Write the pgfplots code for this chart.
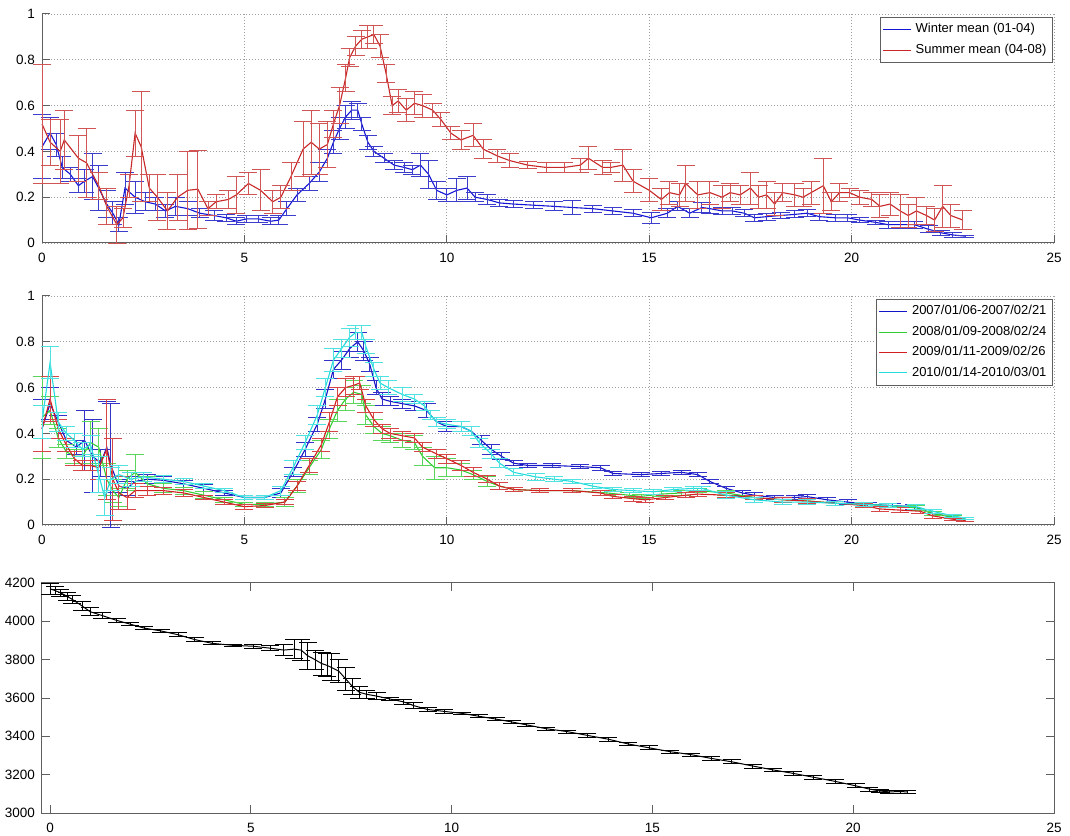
\documentclass[border=0pt]{standalone}
\usepackage{pgfplots}
\pgfplotsset{compat=1.18}
\usepackage{fontspec}
\setmainfont{Liberation Sans}

\definecolor{wblue}{RGB}{20,20,215}
\definecolor{wbluebar}{RGB}{60,60,205}
\definecolor{sred}{RGB}{200,40,40}
\definecolor{sredbar}{RGB}{210,85,85}
\definecolor{yblue}{RGB}{20,20,200}
\definecolor{ybluebar}{RGB}{50,50,200}
\definecolor{ygreen}{RGB}{50,205,50}
\definecolor{ygreenbar}{RGB}{90,215,90}
\definecolor{yred}{RGB}{210,30,30}
\definecolor{yredbar}{RGB}{215,70,70}
\definecolor{ycyan}{RGB}{35,220,220}
\definecolor{ycyanbar}{RGB}{80,225,225}
\definecolor{axgray}{RGB}{95,95,95}

\pgfplotsset{
  panel/.style={
    scale only axis, width=506pt,
    xmax=25, xtick={0,5,10,15,20,25},
    tick align=inside, major tick length=4pt,
    axis line style={axgray, line width=0.5pt},
    every tick/.style={axgray, line width=0.5pt},
    tick label style={font=\fontsize{6.75}{7}\selectfont, black},
    xticklabel style={yshift=-1.5pt},
    /pgf/number format/assume math mode=true,
    /pgf/number format/1000 sep={},
    scaled ticks=false, clip=false,
    legend cell align=left,
    legend style={font=\fontsize{6.5}{8}\selectfont, draw=axgray, line width=0.5pt,
      fill=white, at={(rel axis cs:0.999,0.987)}, anchor=north east,
      inner sep=1pt, row sep=0pt},
    legend image code/.code={\draw[##1] (0pt,0pt) -- (14pt,0pt);},
  },
  ratio/.style={
    panel, height=114.5pt, xmin=0, ymin=0, ymax=1,
    ytick={0,0.2,0.4,0.6,0.8,1},
    axis x line*=bottom, axis y line*=left,
    grid=major, grid style={gray!75, line width=0.45pt, dash pattern=on 0.5pt off 1pt},
  },
}

\begin{document}
\begin{tikzpicture}
\useasboundingbox (0,0) rectangle (535pt,417.5pt);

% ---------------- seasonal means ----------------
\begin{axis}[ratio, at={(21pt,296pt)}, anchor=south west]
\addlegendimage{draw=wblue, line width=0.55pt}
\addlegendentry{Winter mean (01-04)}
\addlegendimage{draw=sred, line width=0.55pt}
\addlegendentry{Summer mean (04-08)}
\addplot [forget plot, color=wblue, line width=0.55pt, mark=none,
  error bars/.cd, y dir=both, y explicit,
  error bar style={color=wbluebar, line width=0.45pt},
  error mark options={rotate=90, mark size=4.5pt, color=wbluebar, line width=0.45pt}]
  table [x index=0, y index=1, y error index=2] {
0.00 0.42 0.14
0.20 0.48 0.07
0.35 0.43 0.05
0.50 0.33 0.05
0.70 0.30 0.03
0.90 0.25 0.03
1.05 0.27 0.05
1.25 0.29 0.10
1.40 0.24 0.10
1.60 0.17 0.06
1.75 0.13 0.05
1.90 0.08 0.03
2.05 0.24 0.07
2.30 0.20 0.07
2.55 0.18 0.04
2.80 0.17 0.03
3.05 0.14 0.03
3.30 0.16 0.04
3.60 0.15 0.03
3.90 0.13 0.02
4.25 0.12 0.02
4.55 0.11 0.015
4.80 0.095 0.015
5.05 0.105 0.015
5.35 0.105 0.015
5.65 0.095 0.015
5.85 0.10 0.02
6.05 0.15 0.03
6.30 0.21 0.03
6.60 0.26 0.03
6.85 0.31 0.04
7.05 0.37 0.04
7.20 0.44 0.05
7.35 0.50 0.05
7.50 0.55 0.05
7.65 0.58 0.04
7.80 0.58 0.03
7.90 0.52 0.03
8.05 0.44 0.03
8.20 0.40 0.02
8.45 0.37 0.02
8.70 0.34 0.02
8.95 0.33 0.02
9.15 0.32 0.02
9.35 0.34 0.05
9.55 0.30 0.06
9.75 0.23 0.04
10.00 0.21 0.03
10.25 0.23 0.05
10.50 0.24 0.05
10.70 0.20 0.02
11.00 0.19 0.02
11.30 0.175 0.015
11.65 0.17 0.015
12.15 0.165 0.015
12.65 0.16 0.02
13.10 0.155 0.03
13.60 0.15 0.015
14.10 0.14 0.015
14.60 0.13 0.015
15.05 0.11 0.025
15.45 0.13 0.02
15.70 0.16 0.02
16.00 0.13 0.02
16.30 0.155 0.02
16.50 0.15 0.02
16.80 0.14 0.015
17.05 0.14 0.015
17.35 0.13 0.015
17.60 0.11 0.015
17.90 0.115 0.015
18.25 0.12 0.015
18.60 0.125 0.015
18.90 0.13 0.015
19.20 0.115 0.015
19.60 0.11 0.015
19.90 0.11 0.015
20.20 0.10 0.01
20.60 0.09 0.01
20.90 0.08 0.015
21.20 0.08 0.015
21.55 0.08 0.015
21.90 0.06 0.015
22.20 0.045 0.01
22.50 0.035 0.01
22.80 0.03 0.005
};
\addplot [forget plot, color=sred, line width=0.55pt, mark=none,
  error bars/.cd, y dir=both, y explicit,
  error bar style={color=sredbar, line width=0.45pt},
  error mark options={rotate=90, mark size=4.5pt, color=sredbar, line width=0.45pt}]
  table [x index=0, y index=1, y error index=2] {
0.00 0.52 0.26
0.20 0.44 0.10
0.45 0.40 0.14
0.55 0.45 0.13
0.90 0.37 0.10
1.10 0.35 0.15
1.40 0.25 0.06
1.60 0.16 0.08
1.85 0.08 0.08
2.00 0.11 0.04
2.15 0.25 0.05
2.30 0.48 0.10
2.45 0.42 0.24
2.65 0.24 0.06
2.85 0.20 0.10
3.10 0.14 0.08
3.35 0.20 0.10
3.60 0.23 0.17
3.85 0.235 0.17
4.10 0.15 0.03
4.30 0.18 0.03
4.60 0.19 0.04
4.80 0.21 0.08
5.10 0.26 0.05
5.40 0.23 0.09
5.70 0.18 0.05
5.90 0.20 0.05
6.15 0.29 0.06
6.45 0.41 0.12
6.65 0.44 0.14
6.85 0.41 0.11
7.05 0.43 0.10
7.20 0.52 0.06
7.35 0.60 0.08
7.50 0.72 0.06
7.60 0.81 0.04
7.75 0.86 0.04
7.90 0.89 0.04
8.05 0.90 0.05
8.20 0.91 0.04
8.35 0.86 0.05
8.50 0.74 0.04
8.65 0.60 0.04
8.80 0.62 0.05
9.00 0.58 0.05
9.20 0.61 0.05
9.40 0.60 0.05
9.65 0.58 0.03
9.85 0.54 0.03
10.10 0.48 0.03
10.35 0.45 0.04
10.65 0.47 0.05
10.90 0.41 0.04
11.25 0.38 0.03
11.55 0.36 0.03
12.00 0.34 0.015
12.45 0.33 0.02
12.90 0.33 0.02
13.30 0.34 0.03
13.50 0.37 0.05
13.85 0.33 0.03
14.05 0.33 0.02
14.35 0.34 0.07
14.60 0.27 0.05
15.00 0.23 0.05
15.30 0.19 0.05
15.50 0.22 0.05
15.75 0.21 0.05
15.90 0.26 0.08
16.20 0.21 0.06
16.50 0.22 0.05
16.80 0.20 0.05
17.00 0.22 0.04
17.25 0.21 0.04
17.50 0.24 0.07
17.70 0.20 0.05
17.90 0.21 0.06
18.10 0.17 0.05
18.30 0.22 0.04
18.60 0.21 0.05
18.80 0.20 0.04
19.00 0.22 0.05
19.30 0.25 0.12
19.50 0.18 0.04
19.70 0.22 0.04
19.95 0.22 0.02
20.20 0.20 0.03
20.50 0.19 0.03
20.70 0.16 0.05
20.95 0.17 0.05
21.20 0.14 0.07
21.40 0.12 0.05
21.60 0.14 0.06
21.85 0.12 0.04
22.05 0.10 0.05
22.25 0.16 0.09
22.45 0.12 0.05
22.75 0.10 0.04
};
\end{axis}

% ---------------- individual winters ----------------
\begin{axis}[ratio, at={(21pt,155pt)}, anchor=south west]
\addlegendimage{draw=yblue, line width=0.55pt}
\addlegendentry{2007/01/06-2007/02/21}
\addlegendimage{draw=ygreen, line width=0.55pt}
\addlegendentry{2008/01/09-2008/02/24}
\addlegendimage{draw=yred, line width=0.55pt}
\addlegendentry{2009/01/11-2009/02/26}
\addlegendimage{draw=ycyan, line width=0.55pt}
\addlegendentry{2010/01/14-2010/03/01}
\addplot [forget plot, color=yblue, line width=0.55pt, mark=none,
  error bars/.cd, y dir=both, y explicit,
  error bar style={color=ybluebar, line width=0.45pt},
  error mark options={rotate=90, mark size=4.5pt, color=ybluebar, line width=0.45pt}]
  table [x index=0, y index=1, y error index=2] {
0.00 0.42 0.13
0.20 0.53 0.07
0.40 0.45 0.03
0.60 0.37 0.03
0.85 0.34 0.03
1.05 0.37 0.13
1.25 0.30 0.16
1.45 0.27 0.06
1.60 0.34 0.20
1.70 0.26 0.27
1.90 0.17 0.03
2.10 0.16 0.03
2.30 0.19 0.02
2.60 0.20 0.02
3.00 0.195 0.015
3.50 0.18 0.015
4.00 0.16 0.015
4.50 0.14 0.01
5.00 0.12 0.01
5.50 0.12 0.01
5.90 0.14 0.02
6.20 0.23 0.02
6.50 0.33 0.03
6.80 0.44 0.03
7.00 0.55 0.04
7.20 0.68 0.04
7.40 0.72 0.04
7.60 0.77 0.04
7.80 0.80 0.04
7.95 0.76 0.04
8.10 0.70 0.03
8.25 0.60 0.03
8.40 0.55 0.03
8.60 0.54 0.02
8.90 0.53 0.02
9.20 0.52 0.02
9.50 0.50 0.03
9.75 0.45 0.02
10.00 0.43 0.02
10.35 0.43 0.02
10.60 0.41 0.02
10.85 0.37 0.02
11.10 0.33 0.02
11.35 0.30 0.015
11.65 0.27 0.01
12.00 0.26 0.01
12.60 0.26 0.01
13.30 0.255 0.01
13.80 0.25 0.01
14.10 0.225 0.01
14.80 0.22 0.01
15.30 0.225 0.01
15.80 0.23 0.01
16.20 0.22 0.01
16.50 0.19 0.01
16.90 0.16 0.01
17.30 0.14 0.01
17.60 0.13 0.01
18.10 0.12 0.01
18.60 0.12 0.01
18.90 0.124 0.01
19.40 0.11 0.01
19.90 0.10 0.01
20.40 0.09 0.01
21.00 0.085 0.01
21.55 0.08 0.01
22.00 0.05 0.01
22.50 0.035 0.005
22.80 0.03 0.005
};
\addplot [forget plot, color=ygreen, line width=0.55pt, mark=none,
  error bars/.cd, y dir=both, y explicit,
  error bar style={color=ygreenbar, line width=0.45pt},
  error mark options={rotate=90, mark size=4.5pt, color=ygreenbar, line width=0.45pt}]
  table [x index=0, y index=1, y error index=2] {
0.00 0.47 0.18
0.20 0.50 0.06
0.40 0.38 0.04
0.60 0.32 0.03
0.80 0.30 0.03
1.00 0.30 0.03
1.20 0.36 0.09
1.40 0.34 0.08
1.60 0.20 0.07
1.75 0.15 0.05
1.90 0.12 0.04
2.10 0.20 0.04
2.30 0.23 0.08
2.60 0.18 0.03
3.00 0.16 0.02
3.50 0.15 0.015
4.00 0.13 0.015
4.50 0.11 0.01
5.00 0.09 0.01
5.50 0.09 0.01
6.00 0.10 0.02
6.30 0.17 0.03
6.60 0.25 0.03
6.90 0.33 0.04
7.10 0.42 0.04
7.30 0.50 0.05
7.50 0.55 0.05
7.70 0.58 0.05
7.90 0.57 0.04
8.00 0.48 0.04
8.20 0.43 0.03
8.40 0.40 0.03
8.60 0.39 0.03
8.90 0.37 0.03
9.20 0.36 0.03
9.40 0.30 0.04
9.70 0.25 0.05
10.00 0.25 0.04
10.35 0.24 0.03
10.65 0.22 0.02
11.00 0.19 0.02
11.30 0.17 0.015
11.65 0.155 0.01
12.30 0.15 0.01
13.10 0.15 0.01
13.95 0.14 0.01
14.50 0.13 0.01
14.80 0.125 0.01
15.30 0.135 0.01
15.80 0.14 0.01
16.20 0.15 0.01
16.90 0.14 0.01
17.60 0.12 0.01
18.30 0.11 0.01
18.90 0.105 0.01
19.60 0.095 0.01
20.30 0.09 0.01
20.90 0.085 0.01
21.60 0.075 0.01
22.00 0.05 0.01
22.50 0.035 0.005
22.80 0.03 0.005
};
\addplot [forget plot, color=yred, line width=0.55pt, mark=none,
  error bars/.cd, y dir=both, y explicit,
  error bar style={color=yredbar, line width=0.45pt},
  error mark options={rotate=90, mark size=4.5pt, color=yredbar, line width=0.45pt}]
  table [x index=0, y index=1, y error index=2] {
0.00 0.42 0.10
0.20 0.55 0.10
0.40 0.42 0.04
0.60 0.35 0.03
0.80 0.29 0.03
1.00 0.26 0.02
1.20 0.26 0.02
1.40 0.25 0.05
1.60 0.33 0.22
1.75 0.20 0.18
1.90 0.14 0.07
2.10 0.12 0.05
2.30 0.15 0.03
2.60 0.15 0.02
3.00 0.15 0.015
3.50 0.14 0.015
4.00 0.12 0.01
4.50 0.10 0.01
5.00 0.08 0.01
5.50 0.085 0.01
6.00 0.10 0.01
6.30 0.17 0.02
6.60 0.26 0.03
6.90 0.35 0.03
7.10 0.45 0.04
7.30 0.56 0.04
7.50 0.60 0.04
7.70 0.61 0.04
7.85 0.62 0.03
8.00 0.52 0.03
8.20 0.46 0.03
8.40 0.42 0.02
8.60 0.40 0.02
8.90 0.39 0.02
9.20 0.38 0.02
9.40 0.34 0.02
9.75 0.31 0.02
10.00 0.29 0.02
10.35 0.26 0.02
10.65 0.23 0.02
11.00 0.20 0.015
11.30 0.17 0.015
11.65 0.155 0.01
12.30 0.15 0.01
13.10 0.15 0.01
13.80 0.14 0.01
14.10 0.125 0.01
14.60 0.115 0.01
14.90 0.11 0.01
15.40 0.12 0.01
15.90 0.13 0.01
16.20 0.135 0.01
16.90 0.13 0.01
17.60 0.12 0.01
18.30 0.11 0.01
18.90 0.105 0.01
19.60 0.095 0.01
20.30 0.085 0.01
20.70 0.07 0.01
21.20 0.065 0.01
21.70 0.06 0.01
22.00 0.04 0.01
22.50 0.025 0.005
22.80 0.02 0.005
};
\addplot [forget plot, color=ycyan, line width=0.55pt, mark=none,
  error bars/.cd, y dir=both, y explicit,
  error bar style={color=ycyanbar, line width=0.45pt},
  error mark options={rotate=90, mark size=4.5pt, color=ycyanbar, line width=0.45pt}]
  table [x index=0, y index=1, y error index=2] {
0.00 0.45 0.07
0.20 0.71 0.07
0.40 0.45 0.04
0.60 0.40 0.03
0.80 0.37 0.03
1.00 0.33 0.03
1.20 0.35 0.04
1.40 0.22 0.08
1.55 0.12 0.08
1.70 0.20 0.05
1.90 0.22 0.04
2.20 0.20 0.03
2.50 0.21 0.02
3.00 0.20 0.015
3.50 0.19 0.015
4.00 0.17 0.01
4.50 0.15 0.01
5.00 0.12 0.01
5.50 0.12 0.01
5.90 0.15 0.02
6.20 0.25 0.03
6.50 0.36 0.03
6.80 0.48 0.04
7.00 0.60 0.04
7.20 0.72 0.05
7.40 0.77 0.04
7.60 0.82 0.04
7.75 0.84 0.03
7.90 0.84 0.03
8.00 0.78 0.03
8.20 0.68 0.03
8.35 0.62 0.03
8.55 0.60 0.03
8.90 0.57 0.03
9.20 0.55 0.02
9.45 0.52 0.02
9.60 0.48 0.02
9.75 0.45 0.02
10.00 0.44 0.02
10.35 0.43 0.02
10.60 0.41 0.02
10.80 0.36 0.02
11.10 0.31 0.02
11.30 0.27 0.02
11.65 0.23 0.015
12.20 0.21 0.015
12.65 0.20 0.01
13.10 0.19 0.01
13.60 0.17 0.01
14.10 0.155 0.01
14.60 0.15 0.01
15.10 0.145 0.01
15.60 0.155 0.01
16.10 0.16 0.01
16.30 0.16 0.01
16.90 0.13 0.015
17.60 0.11 0.01
18.30 0.10 0.01
18.90 0.10 0.01
19.60 0.095 0.01
20.30 0.09 0.01
20.90 0.085 0.01
21.60 0.08 0.01
22.00 0.06 0.01
22.50 0.04 0.005
22.80 0.03 0.005
};
\end{axis}

% ---------------- depth profile ----------------
\begin{axis}[panel, at={(21pt,11pt)}, anchor=south west, height=115pt,
  xmin=-0.2, ymin=3000, ymax=4200, ytick={3000,3200,3400,3600,3800,4000,4200}]
\addplot [color=black, line width=0.5pt, mark=none,
  error bars/.cd, y dir=both, y explicit,
  error bar style={color=black, line width=0.45pt},
  error mark options={rotate=90, mark size=4.5pt, color=black, line width=0.45pt}]
  table [x index=0, y index=1, y error index=2] {
0.00 4170 30
0.13 4160 20
0.25 4150 18
0.43 4130 20
0.55 4115 22
0.80 4080 25
1.00 4050 20
1.30 4030 15
1.66 4005 10
2.00 3985 8
2.34 3965 8
2.76 3950 10
3.19 3930 10
3.60 3905 10
4.04 3885 8
4.55 3875 6
5.06 3870 10
5.48 3860 12
5.82 3850 30
6.08 3855 50
6.25 3850 55
6.42 3820 70
6.60 3800 50
6.76 3780 60
6.90 3770 60
7.00 3760 70
7.19 3740 60
7.36 3700 60
7.53 3660 40
7.70 3630 30
7.87 3620 20
8.13 3610 20
8.46 3595 10
8.80 3580 15
9.06 3560 15
9.40 3540 10
9.82 3530 8
10.25 3520 6
10.67 3505 8
11.10 3490 8
11.50 3475 8
11.86 3460 6
12.35 3440 8
12.87 3425 8
13.38 3405 10
13.90 3385 10
14.40 3360 10
14.92 3340 10
15.44 3320 8
15.95 3305 8
16.46 3285 10
16.98 3267 10
17.50 3245 10
18.00 3225 10
18.50 3207 10
19.00 3187 10
19.55 3165 10
20.06 3142 10
20.40 3125 10
20.66 3115 10
20.90 3110 8
21.17 3112 8
21.34 3110 8
};
\end{axis}
\end{tikzpicture}
\end{document}
